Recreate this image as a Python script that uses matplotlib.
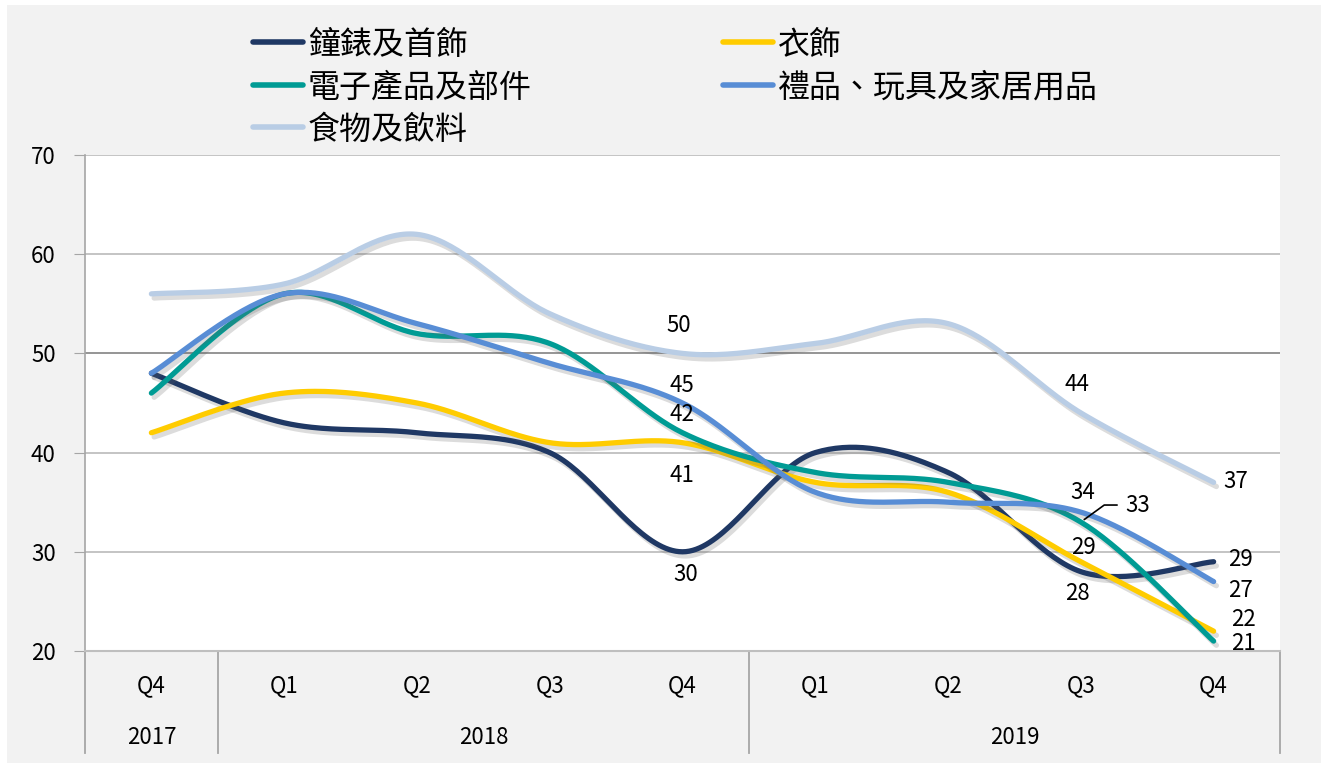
import numpy as np
import matplotlib
matplotlib.use("Agg")
import matplotlib.pyplot as plt
import matplotlib.patheffects as pe
from matplotlib.lines import Line2D
from matplotlib.patches import Rectangle
from matplotlib.transforms import blended_transform_factory

plt.rcParams['font.family'] = ['Noto Sans CJK TC', 'DejaVu Sans']

quarters = ['Q4', 'Q1', 'Q2', 'Q3', 'Q4', 'Q1', 'Q2', 'Q3', 'Q4']
years = ['2017', '2018', '2019']
year_spans = [(0, 0), (1, 4), (5, 8)]

names = ['鐘錶及首飾', '衣飾', '電子產品及部件', '禮品、玩具及家居用品', '食物及飲料']
colors = ['#1F3864', '#FFCC00', '#009B94', '#588DD5', '#B9CDE5']

watches = [48, 43, 42, 40, 30, 40, 38, 28, 29]
clothing = [42, 46, 45, 41, 41, 37, 36, 29, 22]
electronics = [46, 56, 52, 51, 42, 38, 37, 33, 21]
gifts = [48, 56, 53, 49, 45, 36, 35, 34, 27]
food = [56, 57, 62, 54, 50, 51, 53, 44, 37]
series = [watches, clothing, electronics, gifts, food]

# label offsets in pixels (dx, dy) for the labelled points: index -> offset
label_offsets = [
    {4: (3, -23), 7: (-3, -22), 8: (27, 2)},
    {4: (-1, -33), 7: (3, 14), 8: (30, 12)},
    {4: (-1, 18), 8: (30, -2)},
    {4: (-1, 17), 7: (2, 20), 8: (27, -9)},
    {4: (-4, 28), 7: (-4, 28), 8: (22, 1)},
]


def smooth(y, n=40):
    # Excel-like smoothed line (Catmull-Rom as cubic Bezier)
    pts = np.column_stack([np.arange(len(y)), np.asarray(y, float)])
    out = []
    t = np.linspace(0, 1, n)[:, None]
    for i in range(len(pts) - 1):
        p0 = pts[i - 1] if i > 0 else pts[i]
        p1, p2 = pts[i], pts[i + 1]
        p3 = pts[i + 2] if i + 2 < len(pts) else pts[i + 1]
        c1 = p1 + (p2 - p0) / 6
        c2 = p2 - (p3 - p1) / 6
        seg = ((1 - t) ** 3) * p1 + 3 * ((1 - t) ** 2) * t * c1 + 3 * (1 - t) * t ** 2 * c2 + t ** 3 * p2
        out.append(seg if i == 0 else seg[1:])
    out = np.vstack(out)
    return out[:, 0], out[:, 1]


W, H = 1328, 768
fig = plt.figure(figsize=(W / 100, H / 100), dpi=100, facecolor='white')
fig.add_artist(Rectangle((7 / W, 5 / H), 1314 / W, 758 / H, transform=fig.transFigure,
                         facecolor='#F2F2F2', edgecolor='none', zorder=0))

ax = fig.add_axes([85 / W, 1 - 651 / H, 1195 / W, 496 / H])
ax.set_facecolor('white')
ax.set_xlim(-0.5, 8.5)
ax.set_ylim(20, 70)
ax.set_yticks(range(20, 71, 10))
ax.tick_params(axis='y', length=8, color='#A6A6A6', labelsize=16, pad=13)
ax.set_xticks([])
for s in ['top', 'right']:
    ax.spines[s].set_visible(False)
ax.spines['left'].set_color('#A6A6A6')
ax.spines['bottom'].set_color('#BFBFBF')
ax.spines['left'].set_linewidth(1.2)
ax.spines['bottom'].set_linewidth(1.5)
for yv in [30, 40, 60, 70]:
    ax.axhline(yv, color='#BFBFBF', lw=1.3, zorder=1)
ax.axhline(50, color='#8C8C8C', lw=1.3, zorder=1)

shadow = [pe.SimpleLineShadow(offset=(2, -3), shadow_color='#606060', alpha=0.22),
          pe.Normal()]
for vals, name, c, offs in zip(series, names, colors, label_offsets):
    xs, ys = smooth(vals)
    ax.plot(xs, ys, color=c, lw=3.8, solid_capstyle='round', path_effects=shadow, zorder=3)
    for i, (dx, dy) in offs.items():
        ax.annotate(str(vals[i]), (i, vals[i]), xytext=(dx, dy), textcoords='offset pixels',
                    ha='center', va='center', fontsize=16, color='black', zorder=5)

# label with leader line for electronics Q3 2019
ax.annotate(str(electronics[7]), (7, electronics[7]), xytext=(57, 17), textcoords='offset pixels',
            ha='center', va='center', fontsize=16, zorder=5,
            arrowprops=dict(arrowstyle='-', color='black', lw=1.2, relpos=(0, 0.5),
                            shrinkA=4, shrinkB=3,
                            connectionstyle='angle,angleA=0,angleB=36,rad=0'))

# two-level category axis
tr = blended_transform_factory(ax.transData, ax.transAxes)
for i, q in enumerate(quarters):
    ax.text(i, -35 / 496, q, transform=tr, ha='center', va='center', fontsize=16)
for yr, (a, b) in zip(years, year_spans):
    ax.text((a + b) / 2, -86 / 496, yr, transform=tr, ha='center', va='center', fontsize=16)
for xb in [-0.5, 0.5, 4.5, 8.5]:
    ax.add_line(Line2D([xb, xb], [0, -102 / 496], transform=tr, color='#A6A6A6',
                       lw=1.3, clip_on=False))

# legend
leg_x = [250, 720]
leg_y = [42, 85, 127]
for k, (name, c) in enumerate(zip(names, colors)):
    x0 = leg_x[k % 2]
    y0 = leg_y[k // 2]
    fig.add_artist(Line2D([(x0 + 3) / W, (x0 + 53) / W], [1 - y0 / H, 1 - y0 / H],
                          transform=fig.transFigure, color=c, lw=4, solid_capstyle='round'))
    fig.text((x0 + 58) / W, 1 - (y0 + 3) / H, name, ha='left', va='center', fontsize=23,
             fontweight='light')

fig.savefig('out.png', dpi=100, facecolor=fig.get_facecolor())
